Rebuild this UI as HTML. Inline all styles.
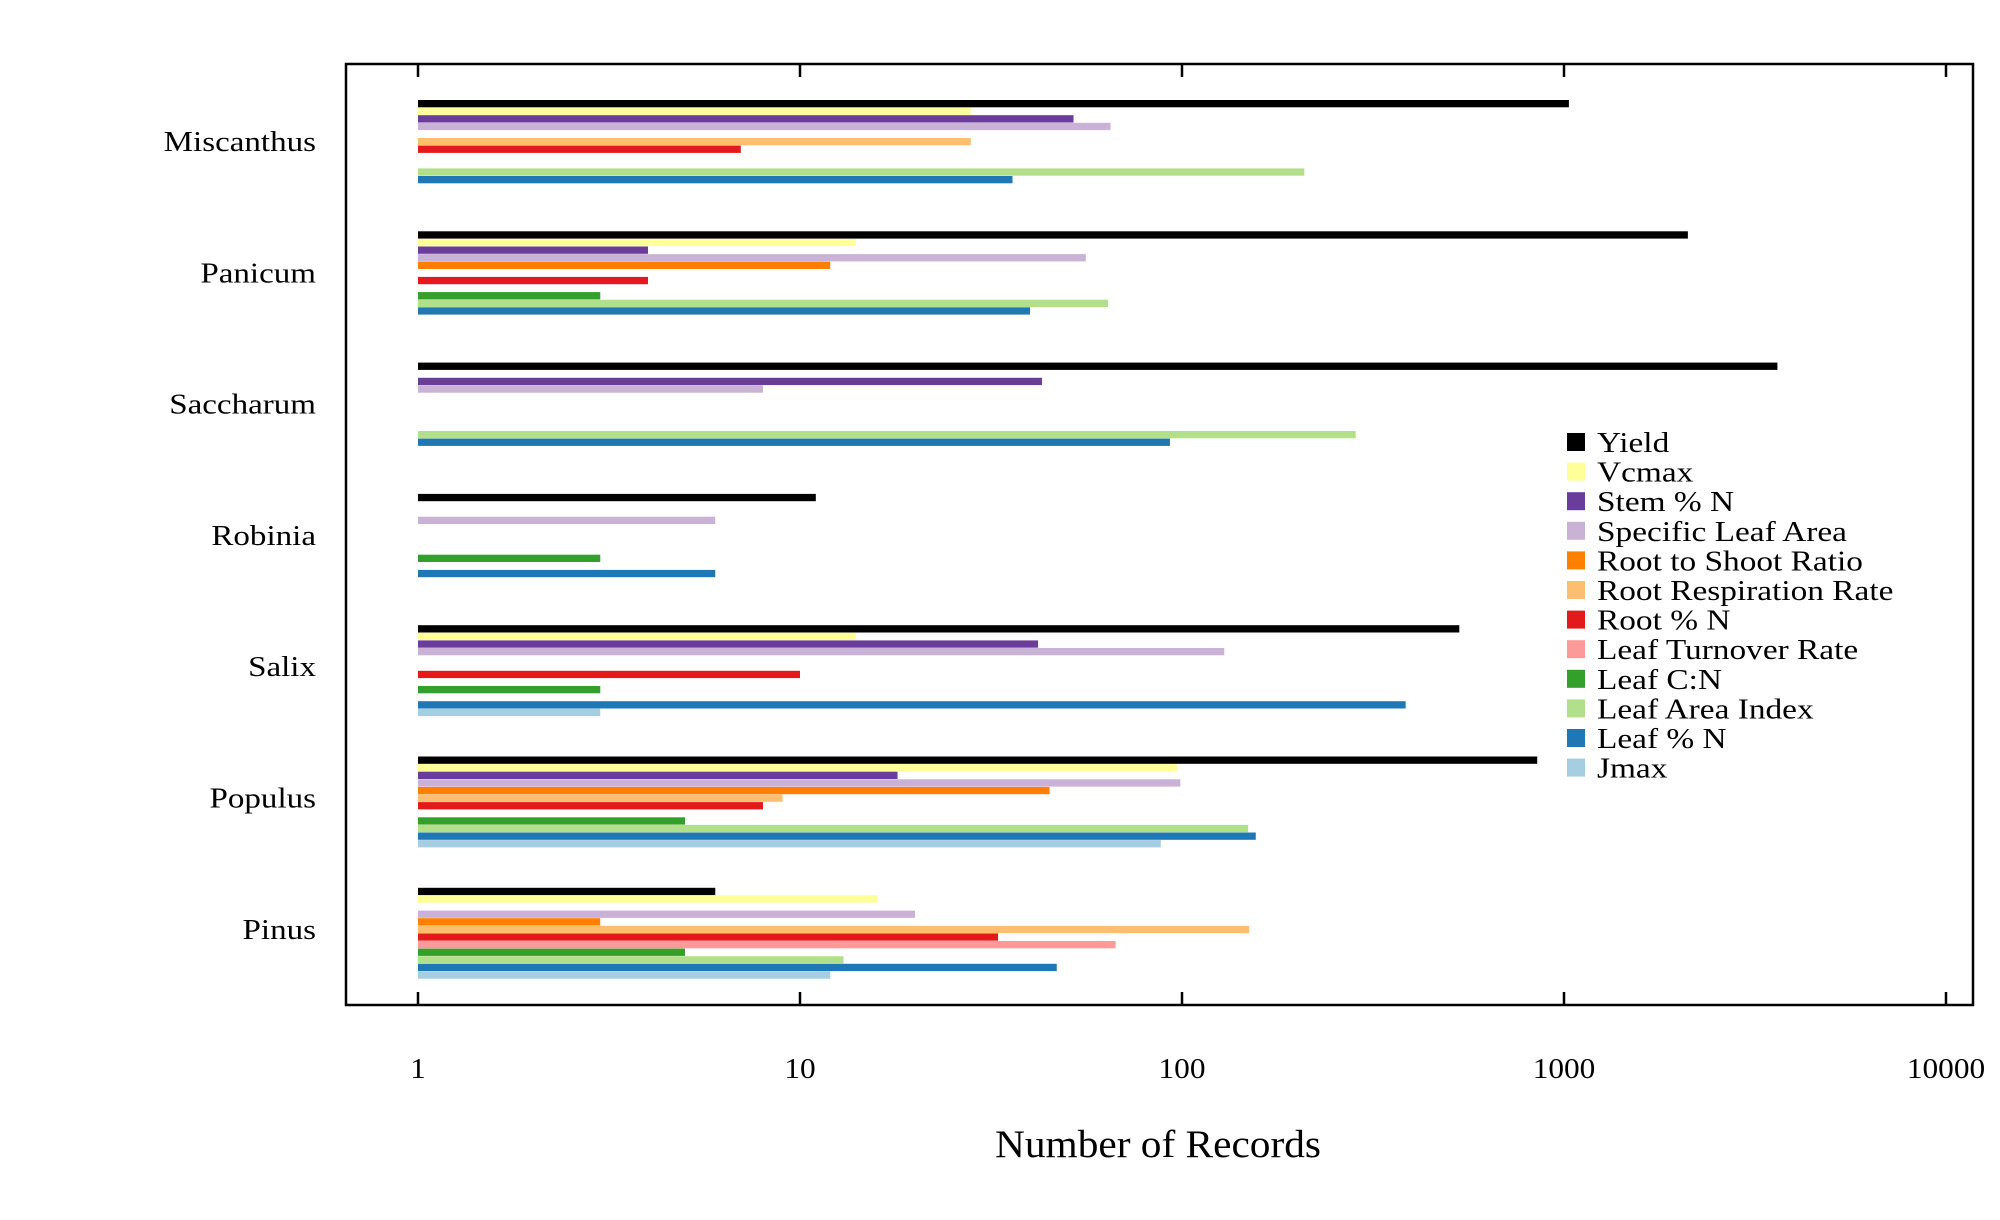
<!DOCTYPE html>
<html><head><meta charset="utf-8"><style>
body{margin:0;background:#fff}
svg{display:block;font-family:"Liberation Serif",serif}
</style></head><body>
<svg id="c" width="2000" height="1220" xmlns="http://www.w3.org/2000/svg">
<rect x="0" y="0" width="2000" height="1220" fill="#fff"/>
<rect x="346" y="64" width="1627" height="941" fill="none" stroke="#000" stroke-width="2.5"/>
<text transform="translate(1158,1157) scale(1.06,1)" font-size="39" text-anchor="middle">Number of Records</text>
</svg>
<script>
const species = ["Miscanthus","Panicum","Saccharum","Robinia","Salix","Populus","Pinus"];
const traits = ["Yield","Vcmax","Stem % N","Specific Leaf Area","Root to Shoot Ratio","Root Respiration Rate","Root % N","Leaf Turnover Rate","Leaf C:N","Leaf Area Index","Leaf % N","Jmax"];
const colors = ["#000000","#ffff99","#6a3d9a","#cab2d6","#ff7f00","#fdbf6f","#e31a1c","#fb9a99","#33a02c","#b2df8a","#1f78b4","#a6cee3"];
const tickValues = [1,10,100,1000,10000];
const tickLabels = ["1","10","100","1000","10000"];
const miscanthus = [1030,28,52,65,null,28,7,null,null,209,36,null];
const panicum = [2110,14,4,56,12,null,4,null,3,64,40,null];
const saccharum = [3620,null,43,8,null,null,null,null,null,285,93,null];
const robinia = [11,null,null,6,null,null,null,null,3,null,6,null];
const salix = [532,14,42,129,null,null,10,null,3,null,385,3];
const populus = [851,97,18,99,45,9,8,null,5,149,156,88];
const pinus = [6,16,null,20,3,150,33,67,5,13,47,12];
const values = [miscanthus,panicum,saccharum,robinia,salix,populus,pinus];

const NS="http://www.w3.org/2000/svg";
const svg=document.getElementById('c');
const X0=418, DEC=382;
function xs(v){return X0+DEC*Math.log10(v);}
const G0=100, GS=131.3, SS=7.6, BH=7.3;
function ys(g,s){return G0+g*GS+s*SS;}
function mk(tag,attrs){const e=document.createElementNS(NS,tag);for(const k in attrs)e.setAttribute(k,attrs[k]);svg.appendChild(e);return e;}

tickValues.forEach((v,i)=>{
  const x=xs(v);
  let t=mk('line',{x1:x,x2:x,y1:1005,y2:992,stroke:'#000','stroke-width':2.5});
  
  
  t=mk('line',{x1:x,x2:x,y1:64,y2:77,stroke:'#000','stroke-width':2.5});
  
  
  const l=mk('text',{transform:'translate('+x+',1078) scale(1.08,1)','font-size':29,'text-anchor':'middle'});
  l.textContent=tickLabels[i];
  
  
});

species.forEach((sp,g)=>{
  const l=mk('text',{transform:'translate(316,'+(ys(g,0)+51)+') scale(1.14,1)','font-size':29,'text-anchor':'end'});
  l.textContent=sp;
  
  
  values[g].forEach((v,s)=>{
    if(v==null)return;
    const b=mk('rect',{x:X0,y:ys(g,s),width:Math.max(0,xs(v)-X0),height:BH,fill:colors[s]});
    
    
  });
});

traits.forEach((t,i)=>{
  const cy=442+i*29.6;
  const r=mk('rect',{x:1567,y:cy-9,width:18,height:18,fill:colors[i]});
  
  
  const tx=mk('text',{transform:'translate(1597,'+(cy+10)+') scale(1.15,1)','font-size':29});
  tx.textContent=t;
  
  
});
</script>
</body></html>
